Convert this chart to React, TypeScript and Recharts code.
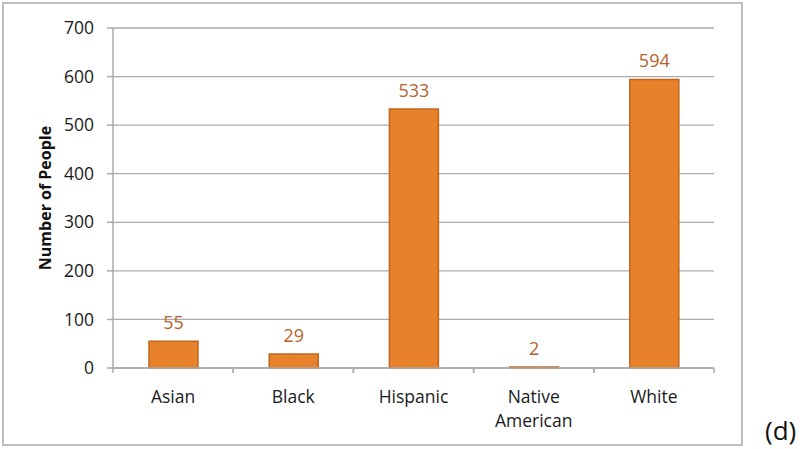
import { BarChart, Bar, XAxis, YAxis, CartesianGrid, LabelList } from "recharts"

// valeurs
const groups = ["Asian", "Black", "Hispanic", "Native American", "White"]
const counts = [55, 29, 533, 2, 594]
const yTicks = [0, 100, 200, 300, 400, 500, 600, 700]

const data = groups.map((g, i) => ({ name: g, value: counts[i] }))

const FONT = "'Open Sans', 'Noto Sans', sans-serif"
const AXIS_GREY = "#ababab"
const PLOT_W = 601 // largeur de la zone de tracé (800 - marges)

// tick de catégorie : libellé sur une ou deux lignes + marques aux bords de la bande
function CategoryTick(props: any) {
  const { x, y, payload } = props
  const band = PLOT_W / groups.length
  const words = String(payload.value).split(" ")
  return (
    <g>
      <line x1={x - band / 2} x2={x - band / 2} y1={y - 8} y2={y - 3} stroke={AXIS_GREY} strokeWidth={1.5} />
      <line x1={x + band / 2} x2={x + band / 2} y1={y - 8} y2={y - 3} stroke={AXIS_GREY} strokeWidth={1.5} />
      <text x={x} y={y + 27} textAnchor="middle" fill="#1a1a1a" fontSize={17.5} fontFamily={FONT}>
        {words.map((w, i) => (
          <tspan key={i} x={x} dy={i === 0 ? 0 : 24}>
            {w}
          </tspan>
        ))}
      </text>
    </g>
  )
}

export default function App() {
  return (
    <div style={{ position: "absolute", left: 0, top: 0, width: 800, height: 449, background: "#fff", fontFamily: FONT }}>
      <div
        style={{
          position: "absolute",
          left: 2,
          top: 2,
          width: 737,
          height: 440,
          border: "2px solid #bdbdbd",
        }}
      />
      <div style={{ position: "absolute", left: 0, top: 0 }}>
        <BarChart
          width={800}
          height={449}
          data={data}
          margin={{ top: 28, right: 86, bottom: 0, left: 30 }}
          barSize={49}
        >
          <CartesianGrid vertical={false} stroke={AXIS_GREY} strokeWidth={1.3} />
          <XAxis
            dataKey="name"
            interval={0}
            axisLine={{ stroke: AXIS_GREY, strokeWidth: 1.5 }}
            tickLine={false}
            tick={<CategoryTick />}
            height={81}
          />
          <YAxis
            width={83}
            domain={[0, 700]}
            ticks={yTicks}
            interval={0}
            axisLine={{ stroke: AXIS_GREY, strokeWidth: 1.5 }}
            tickLine={{ stroke: AXIS_GREY, strokeWidth: 1.5 }}
            tickSize={6}
            tickMargin={13}
            tick={{ fill: "#1a1a1a", fontSize: 17.5, fontFamily: FONT }}
            label={{
              value: "Number of People",
              angle: -90,
              position: "insideLeft",
              offset: 15,
              style: { textAnchor: "middle", fontWeight: 700, fontSize: 16, fill: "#111", fontFamily: FONT },
            }}
          />
          <Bar dataKey="value" fill="#e8822a" stroke="#c0651f" strokeWidth={1.5} isAnimationActive={false}>
            <LabelList dataKey="value" position="top" offset={12} fill="#b5622a" fontSize={18} fontFamily={FONT} />
          </Bar>
        </BarChart>
      </div>
      <div style={{ position: "absolute", left: 765, top: 417, fontSize: 26, lineHeight: 1, color: "#111" }}>(d)</div>
    </div>
  )
}
